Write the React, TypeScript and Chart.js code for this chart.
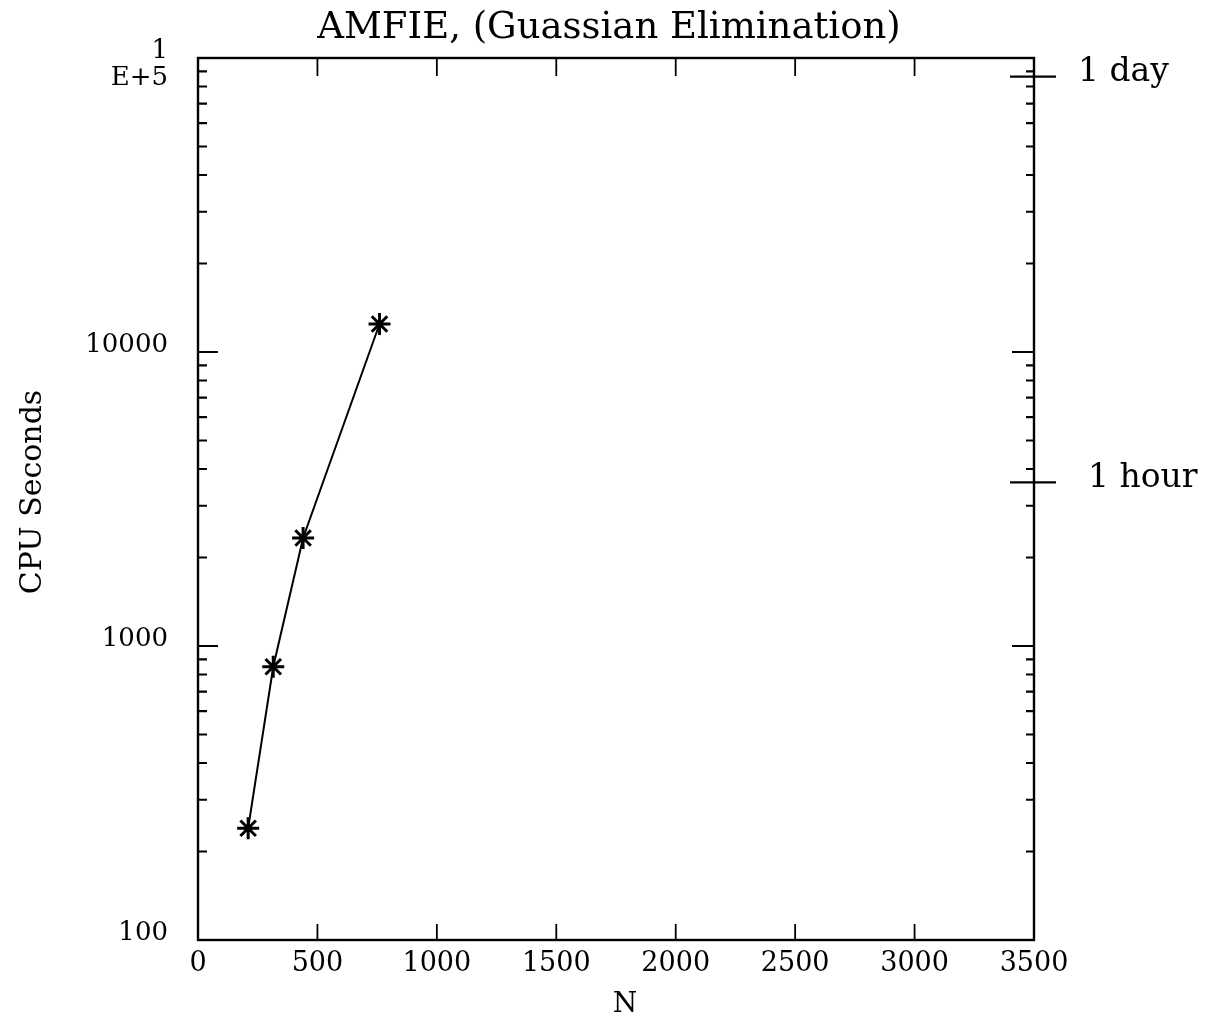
import React, { useEffect, useRef } from "react";
import { Chart, registerables } from "chart.js";

Chart.register(...registerables);

const nValues = [210, 315, 440, 760];
const cpuSeconds = [240, 850, 2330, 12450];
const xTickValues = [0, 500, 1000, 1500, 2000, 2500, 3000, 3500];
const xTickLabels = ["0", "500", "1000", "1500", "2000", "2500", "3000", "3500"];
const yTickValues = [100, 1000, 10000, 100000];
const yTickLabels: (string | string[])[] = ["100", "1000", "10000", ["", "1", "E+5"]];
const refValues = [86400, 3600];
const refLabels = ["1 day", "1 hour"];
const titleText = "AMFIE, (Guassian Elimination)";
const xTitle = "N";
const yTitle = "CPU Seconds";

const FONT = "'DejaVu Serif', serif";

const framePlugin = {
  id: "frame",
  afterDraw(chart: any) {
    const ctx = chart.ctx;
    const { left, right, top, bottom } = chart.chartArea;
    const xs = chart.scales.x;
    const ys = chart.scales.y;
    ctx.save();
    ctx.strokeStyle = "#000";
    ctx.fillStyle = "#000";
    ctx.lineWidth = 2.4;
    ctx.strokeRect(left, top, right - left, bottom - top);

    // y ticks (major + minor), both sides, inward
    ctx.lineWidth = 2.2;
    for (let d = 100; d <= 100000; d *= 10) {
      for (let m = 1; m <= 9; m++) {
        const v = d * m;
        if (v > 100000) break;
        const y = ys.getPixelForValue(v);
        const major = m === 1;
        if (major && (v === 100 || v === 100000)) continue;
        const lenL = major ? 20 : 9;
        const lenR = major ? 22 : 8;
        ctx.beginPath();
        ctx.moveTo(left, y);
        ctx.lineTo(left + lenL, y);
        ctx.moveTo(right, y);
        ctx.lineTo(right - lenR, y);
        ctx.stroke();
      }
    }
    // x ticks top & bottom
    ctx.lineWidth = 1.8;
    xTickValues.forEach((v) => {
      if (v === 0 || v === 3500) return;
      const x = xs.getPixelForValue(v);
      ctx.beginPath();
      ctx.moveTo(x, bottom);
      ctx.lineTo(x, bottom - 16);
      ctx.moveTo(x, top);
      ctx.lineTo(x, top + 18);
      ctx.stroke();
    });

    // reference marks on right
    ctx.lineWidth = 2.2;
    ctx.font = `33px ${FONT}`;
    ctx.textBaseline = "middle";
    ctx.textAlign = "left";
    refValues.forEach((v, i) => {
      const y = ys.getPixelForValue(v);
      ctx.beginPath();
      ctx.moveTo(right - 24, y);
      ctx.lineTo(right + 22, y);
      ctx.stroke();
      ctx.fillText(refLabels[i], right + 44 + i * 10, y - 4);
    });

    // titles
    ctx.textAlign = "center";
    ctx.font = `37px ${FONT}`;
    ctx.fillText(titleText, 609, 28);
    ctx.font = `28px ${FONT}`;
    ctx.fillText(xTitle, 625, 1005);
    ctx.save();
    ctx.translate(33, 492);
    ctx.rotate(-Math.PI / 2);
    ctx.font = `30px ${FONT}`;
    ctx.fillText(yTitle, 0, 0);
    ctx.restore();
    ctx.restore();
  },
};

export default function App() {
  const ref = useRef<HTMLCanvasElement | null>(null);
  useEffect(() => {
    document.body.style.margin = "0";
    const chart = new Chart(ref.current as HTMLCanvasElement, {
      type: "scatter",
      data: {
        datasets: [
          {
            data: nValues.map((n, i) => ({ x: n, y: cpuSeconds[i] })),
            showLine: true,
            borderColor: "#000",
            backgroundColor: "#000",
            borderWidth: 2,
            pointStyle: "star",
            pointRadius: 11,
            pointBorderWidth: 3,
            pointBorderColor: "#000",
          },
        ],
      },
      options: {
        animation: false,
        responsive: false,
        maintainAspectRatio: false,
        layout: { padding: { left: 0, right: 175, top: 58, bottom: 0 } },
        plugins: { legend: { display: false }, tooltip: { enabled: false } },
        scales: {
          x: {
            type: "linear",
            min: 0,
            max: 3500,
            afterBuildTicks: (s: any) => {
              s.ticks = xTickValues.map((v) => ({ value: v }));
            },
            afterFit: (s: any) => {
              s.height = 81;
              s.paddingLeft = 0;
              s.paddingRight = 0;
            },
            grid: { display: false, drawTicks: false },
            border: { display: false },
            ticks: {
              color: "#000",
              font: { family: FONT, size: 27 },
              padding: 8,
              maxRotation: 0,
              autoSkip: false,
              callback: (v: any) => {
                const i = xTickValues.indexOf(Number(v));
                return i >= 0 ? xTickLabels[i] : "";
              },
            },
          },
          y: {
            type: "logarithmic",
            min: 100,
            max: 100000,
            afterBuildTicks: (s: any) => {
              s.ticks = yTickValues.map((v) => ({ value: v }));
            },
            afterFit: (s: any) => {
              s.width = 198;
              s.paddingTop = 0;
              s.paddingBottom = 0;
            },
            grid: { display: false, drawTicks: false },
            border: { display: false },
            ticks: {
              color: "#000",
              font: (c: any) => ({
                family: FONT,
                size: 26,
                lineHeight: c.tick && c.tick.value === 100000 ? "27px" : 1.2,
              }),
              padding: 30,
              labelOffset: -7,
              autoSkip: false,
              callback: (v: any) => {
                const i = yTickValues.indexOf(Number(v));
                return i >= 0 ? yTickLabels[i] : "";
              },
            },
          },
        },
      },
      plugins: [framePlugin],
    });
    return () => chart.destroy();
  }, []);
  return (
    <div style={{ position: "absolute", left: 0, top: 0, width: 1209, height: 1021, background: "#fff" }}>
      <canvas ref={ref} width={1209} height={1021} style={{ width: 1209, height: 1021 }} />
    </div>
  );
}
